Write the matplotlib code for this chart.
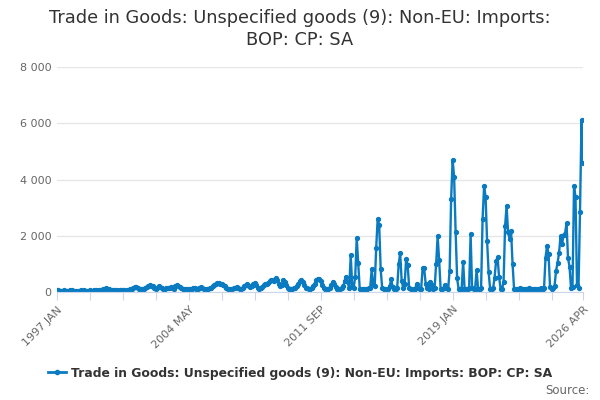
import pandas as pd
import matplotlib
matplotlib.use("Agg")
import matplotlib.pyplot as plt
from matplotlib.lines import Line2D
from matplotlib.ticker import FuncFormatter

title = "Trade in Goods: Unspecified goods (9): Non-EU: Imports:\nBOP: CP: SA"
series_name = "Trade in Goods: Unspecified goods (9): Non-EU: Imports: BOP: CP: SA"

months = pd.date_range("1997-01-01", "2026-04-01", freq="MS")

# monthly values, one row per year
values = [
    60, 55, 50, 45, 50, 55, 40, 45, 50, 55, 60, 50,                # 1997
    45, 50, 40, 45, 55, 50, 60, 45, 40, 50, 55, 45,                # 1998
    50, 60, 55, 45, 70, 60, 80, 90, 110, 150, 120, 90,             # 1999
    70, 60, 80, 70, 60, 50, 60, 70, 65, 55, 50, 60,                # 2000
    80, 100, 120, 150, 190, 170, 140, 110, 100, 90, 120, 150,      # 2001
    180, 220, 250, 230, 200, 150, 120, 160, 210, 190, 140, 100,    # 2002
    120, 150, 130, 160, 180, 150, 120, 200, 240, 230, 180, 140,    # 2003
    100, 90, 110, 120, 100, 90, 120, 160, 130, 110, 100, 140,      # 2004
    170, 140, 110, 100, 90, 110, 130, 160, 210, 260, 300, 320,     # 2005
    310, 280, 300, 250, 200, 150, 120, 110, 100, 120, 140, 160,    # 2006
    190, 150, 120, 110, 150, 200, 250, 280, 230, 180, 200, 280,    # 2007
    330, 260, 150, 120, 130, 170, 250, 300, 280, 330, 400, 440,    # 2008
    420, 380, 500, 430, 300, 200, 250, 420, 360, 250, 150, 120,    # 2009
    110, 100, 130, 150, 200, 300, 390, 420, 360, 250, 150, 130,    # 2010
    120, 110, 150, 200, 300, 420, 480, 450, 380, 250, 150, 120,    # 2011
    110, 120, 150, 250, 370, 300, 180, 120, 100, 110, 130, 200,    # 2012
    400, 540, 350, 130, 1310, 200, 150, 540, 1930, 1040, 120, 100, # 2013
    120, 90, 110, 100, 130, 150, 810, 280, 200, 1580, 2610, 2370,  # 2014
    810, 130, 100, 90, 120, 110, 200, 450, 180, 120, 100, 150,     # 2015
    990, 1370, 400, 150, 300, 1190, 960, 150, 100, 80, 120, 100,   # 2016
    300, 150, 100, 120, 860, 840, 300, 150, 120, 360, 250, 100,    # 2017
    150, 1010, 1990, 1130, 100, 120, 150, 250, 130, 100, 760, 3300,  # 2018
    4700, 4090, 2140, 490, 100, 120, 90, 1080, 110, 100, 120, 150,   # 2019
    2050, 130, 100, 120, 780, 100, 120, 150, 2610, 3760, 3380, 1810, # 2020
    720, 120, 100, 130, 510, 1100, 1230, 540, 120, 100, 360, 2330,   # 2021
    3070, 2130, 1890, 2160, 1000, 110, 110, 120, 100, 130, 120, 110, # 2022
    100, 120, 110, 130, 120, 100, 90, 110, 120, 100, 110, 130,       # 2023
    120, 140, 1220, 1650, 1350, 180, 120, 150, 200, 750, 1030, 1380, # 2024
    1980, 1700, 2010, 2070, 2450, 1210, 900, 150, 180, 3770, 3370, 250,  # 2025
    150, 2840, 6110, 4600,                                           # 2026
]

labelled = ["1997 JAN", "2004 MAY", "2011 SEP", "2019 JAN", "2026 APR"]

blue = "#0a7bc1"
axis_col = "#ccd6eb"

fig = plt.figure(figsize=(6, 4), dpi=100)
ax = fig.add_axes([57/600, 1-292/400, 526/600, 225/400])

x = list(range(len(months)))
ax.plot(x, values, color=blue, lw=1.7, marker="o", ms=2.8, mec=blue, mfc=blue)

ax.set_xlim(0, len(months)-1)
ax.set_ylim(0, 8000)

tick_pos = list(range(0, len(months)-1-20, 22)) + [len(months)-1]
names = [m.strftime("%Y %b").upper() for m in months]
ax.set_xticks(tick_pos)
ax.set_xticklabels([names[i] if names[i] in labelled else "" for i in tick_pos],
                   rotation=45, ha="right", rotation_mode="anchor",
                   fontsize=8, color="#666666")
ax.tick_params(axis="x", length=6, color=axis_col, pad=3)

ax.set_yticks([0, 2000, 4000, 6000, 8000])
ax.yaxis.set_major_formatter(FuncFormatter(lambda v, p: f"{int(v):,}".replace(",", " ")))
ax.tick_params(axis="y", length=0, labelsize=8, labelcolor="#666666", pad=4)
ax.grid(axis="y", color="#e6e6e6", lw=1)
ax.set_axisbelow(True)

for s in ["top", "right", "left"]:
    ax.spines[s].set_visible(False)
ax.spines["bottom"].set_color(axis_col)

fig.text(0.5, 1-29/400, title, ha="center", va="center", fontsize=12.8,
         color="#333333", linespacing=1.3)

handle = Line2D([], [], color=blue, lw=2, marker="o", ms=3)
leg = fig.legend([handle], [series_name], loc="center",
                 bbox_to_anchor=(0.5, 1-373/400), frameon=False,
                 handlelength=1.4, handletextpad=0.4,
                 prop={"weight": "bold", "size": 8.9})
for t in leg.get_texts():
    t.set_color("#333333")

fig.text(590/600, 1-390/400, "Source:", ha="right", va="center",
         fontsize=8.5, color="#666666")

fig.savefig("out.png", dpi=100)
